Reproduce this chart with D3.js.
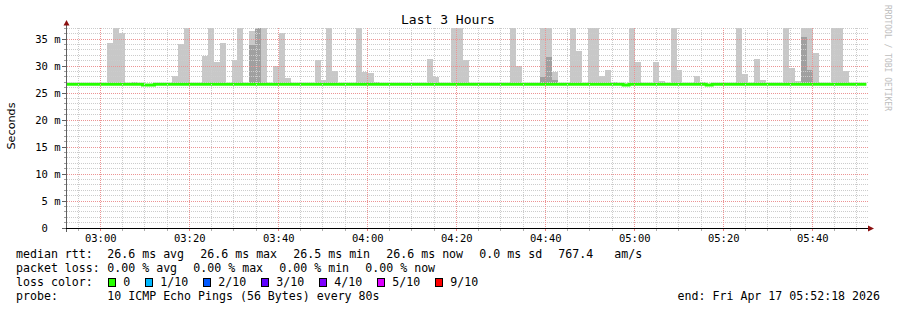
<!DOCTYPE html>
<html>
<head>
<meta charset="utf-8">
<script src="https://cdn.jsdelivr.net/npm/d3@7"></script>
<style>
body { margin: 0; background: #fff; }
svg { display: block; }
text { font-family: "DejaVu Sans Mono", monospace; fill: #000; }
</style>
</head>
<body>
<svg id="canvas" width="897" height="310"></svg>
<script>
let tStart = new Date(2026, 3, 17, 2, 52, 18);
let tEnd = new Date(2026, 3, 17, 5, 52, 18);
let firstSlot = new Date(2026, 3, 17, 2, 52, 10);
let stepSec = 80;

// highest ping per 80 s step (ms), null = no spread above the median
let smokeTop = [
	null, null, null, null, null, null, null, 34.3, 38, 36.1,
	null, 27.0, 26.9, null, null, null, null, null, 28.1, 34.1,
	38, null, null, 31.9, 38, 30.8, 34.3, null, 31.2, 38,
	null, 36.5, 38, 38, null, 30.0, 36.1, 27.8, null, null,
	null, null, 31.1, 27.4, 38, 29.1, null, null, null, 38,
	28.9, 28.7, 27.0, null, 26.9, null, null, null, null, null,
	null, 31.3, 28.0, 26.9, null, 38, 38, 31.1, null, null,
	null, null, null, null, null, 38, 30.0, null, null, null,
	38, 38, 28.9, null, null, 38, 32.8, null, 38, 38,
	28.1, 29.3, 27.0, 26.9, null, 38, 30.7, null, 26.9, 30.7,
	27.2, null, 38, 29.3, null, null, 28.1, 27.0, null, null,
	null, null, null, 38, 28.5, null, 31.3, 27.4, null, 26.9,
	null, 38, 29.6, 27.2, 38, 38, 32.4, null, null, 38,
	38, 29.1, null, null, null, null
];

// steps where the inner (denser) smoke shows
let darkSlots = [31, 32, 80, 81, 82, 124, 125];
let darkTop = [33.8, 38, 28.0, 31.7, 27.4, 35.4, 29.3];

let smokeFloor = 26.5;

// median rtt per step
let medianRtt = [
	26.6, 26.6, 26.6, 26.6, 26.6, 26.6, 26.6, 26.6, 26.6, 26.6,
	26.6, 26.6, 26.6, 26.5, 26.5, 26.6, 26.6, 26.6, 26.6, 26.6,
	26.6, 26.6, 26.6, 26.6, 26.6, 26.6, 26.6, 26.6, 26.6, 26.6,
	26.6, 26.6, 26.6, 26.6, 26.6, 26.6, 26.6, 26.6, 26.6, 26.6,
	26.6, 26.6, 26.6, 26.6, 26.6, 26.6, 26.6, 26.6, 26.6, 26.6,
	26.6, 26.6, 26.6, 26.6, 26.6, 26.6, 26.6, 26.6, 26.6, 26.6,
	26.6, 26.6, 26.6, 26.6, 26.6, 26.6, 26.6, 26.6, 26.6, 26.6,
	26.6, 26.6, 26.6, 26.6, 26.6, 26.6, 26.6, 26.6, 26.6, 26.6,
	26.6, 26.6, 26.6, 26.6, 26.6, 26.6, 26.6, 26.6, 26.6, 26.6,
	26.6, 26.6, 26.6, 26.6, 26.5, 26.6, 26.6, 26.6, 26.6, 26.6,
	26.6, 26.6, 26.6, 26.6, 26.6, 26.6, 26.6, 26.6, 26.5, 26.6,
	26.6, 26.6, 26.6, 26.6, 26.6, 26.6, 26.6, 26.6, 26.6, 26.6,
	26.6, 26.6, 26.6, 26.6, 26.6, 26.6, 26.6, 26.6, 26.6, 26.6,
	26.6, 26.6, 26.6, 26.6, 26.6
];

let rttStats = ['26.6 ms avg', '26.6 ms max', '26.5 ms min', '26.6 ms now', '0.0 ms sd'];
let lossStats = ['0.00 % avg', '0.00 % max', '0.00 % min', '0.00 % now'];
let lossLabels = ['0', '1/10', '2/10', '3/10', '4/10', '5/10', '9/10'];
let lossColors = ['#26ff00', '#00b8ff', '#0059ff', '#5e00ff', '#7e00ff', '#dd00ff', '#ff0000'];

let canvas = d3.select('#canvas');

let plotLeft = 66, plotRight = 867, plotTop = 28, plotBottom = 228;

let x = d3.scaleTime().domain([tStart, tEnd]).range([plotLeft, plotRight]);
let y = d3.scaleLinear().domain([0, 200 / 5.4]).range([plotBottom, plotTop]);

let slotTime = (i) => new Date(firstSlot.getTime() + i * stepSec * 1000);
let px = (v) => Math.floor(v) + 0.5;

canvas.append('defs').append('clipPath').attr('id', 'plot')
	.append('rect').attr('x', plotLeft).attr('y', plotTop)
	.attr('width', plotRight - plotLeft).attr('height', plotBottom - plotTop);

// title
canvas.append('text')
	.attr('x', 448).attr('y', 24)
	.attr('text-anchor', 'middle')
	.style('font-size', '13px')
	.text('Last 3 Hours');

// smoke
let plot = canvas.append('g').attr('clip-path', 'url(#plot)');

plot.selectAll('rect.smoke')
	.data(smokeTop.map((v, i) => ({ i: i, v: v })).filter((d) => d.v !== null))
	.enter()
	.append('rect')
	.attr('class', 'smoke')
	.attr('x', (d) => Math.round(x(slotTime(d.i))))
	.attr('width', (d) => Math.round(x(slotTime(d.i + 1))) - Math.round(x(slotTime(d.i))))
	.attr('y', (d) => Math.round(y(d.v)))
	.attr('height', (d) => Math.round(y(smokeFloor)) - Math.round(y(d.v)))
	.attr('fill', '#c8c8c8');

plot.selectAll('rect.dark')
	.data(darkSlots.map((s, k) => ({ i: s, v: darkTop[k] })))
	.enter()
	.append('rect')
	.attr('class', 'dark')
	.attr('x', (d) => Math.round(x(slotTime(d.i))))
	.attr('width', (d) => Math.round(x(slotTime(d.i + 1))) - Math.round(x(slotTime(d.i))))
	.attr('y', (d) => Math.round(y(d.v)))
	.attr('height', (d) => Math.round(y(smokeFloor)) - Math.round(y(d.v)))
	.attr('fill', '#a0a0a0');

// grid (dotted, 1 px on / 1 px off)
let grid = canvas.append('g').attr('stroke-dasharray', '1,1').attr('stroke-width', 1);
let minorY = y.ticks(40).filter((v) => v % 5 !== 0);
let majorY = y.ticks(8).filter((v) => v > 0);
let minorX = d3.timeMinute.every(5).range(tStart, tEnd).filter((t) => t.getMinutes() % 20 !== 0);
let majorX = d3.timeMinute.every(5).range(tStart, tEnd).filter((t) => t.getMinutes() % 20 === 0);

grid.selectAll('line.hmin').data(minorY).enter().append('line')
	.attr('x1', plotLeft + 1).attr('x2', plotRight + 1)
	.attr('y1', (d) => px(y(d))).attr('y2', (d) => px(y(d)))
	.attr('stroke', '#cccccc');
grid.selectAll('line.vmin').data(minorX).enter().append('line')
	.attr('x1', (d) => px(x(d))).attr('x2', (d) => px(x(d)))
	.attr('y1', plotTop).attr('y2', plotBottom)
	.attr('stroke', '#cccccc');
grid.selectAll('line.hmaj').data(majorY).enter().append('line')
	.attr('x1', plotLeft + 1).attr('x2', plotRight + 1)
	.attr('y1', (d) => px(y(d))).attr('y2', (d) => px(y(d)))
	.attr('stroke', '#ec9494');
grid.selectAll('line.vmaj').data(majorX).enter().append('line')
	.attr('x1', (d) => px(x(d))).attr('x2', (d) => px(x(d)))
	.attr('y1', plotTop).attr('y2', plotBottom)
	.attr('stroke', '#ec9494');

// median line
let medianPts = medianRtt.map((v, i) => [slotTime(i), v]);
medianPts.push([slotTime(medianRtt.length), medianRtt[medianRtt.length - 1]]);
plot.append('path')
	.attr('d', d3.line().x((d) => x(d[0])).y((d) => y(d[1])).curve(d3.curveStepAfter)(medianPts))
	.attr('fill', 'none')
	.attr('stroke', lossColors[0])
	.attr('stroke-width', 3);

// axes
let axes = canvas.append('g').attr('shape-rendering', 'crispEdges');
axes.append('line')
	.attr('x1', plotLeft + 0.5).attr('x2', plotLeft + 0.5)
	.attr('y1', 23).attr('y2', 232)
	.attr('stroke', '#606060');
axes.append('line')
	.attr('x1', 62).attr('x2', 869)
	.attr('y1', plotBottom + 0.5).attr('y2', plotBottom + 0.5)
	.attr('stroke', '#000');
axes.selectAll('line.ytick').data(y.ticks(8)).enter().append('line')
	.attr('x1', 62).attr('x2', plotLeft)
	.attr('y1', (d) => px(y(d))).attr('y2', (d) => px(y(d)))
	.attr('stroke', '#606060');
axes.selectAll('line.yminor').data(minorY).enter().append('line')
	.attr('x1', 64).attr('x2', plotLeft)
	.attr('y1', (d) => px(y(d))).attr('y2', (d) => px(y(d)))
	.attr('stroke', '#a0a0a0');
axes.selectAll('line.xtick').data(minorX).enter().append('line')
	.attr('x1', (d) => px(x(d))).attr('x2', (d) => px(x(d)))
	.attr('y1', plotBottom + 1).attr('y2', plotBottom + 3)
	.attr('stroke', '#b0b0b0');
axes.selectAll('line.xmaj').data(majorX).enter().append('line')
	.attr('x1', (d) => px(x(d))).attr('x2', (d) => px(x(d)))
	.attr('y1', plotBottom + 1).attr('y2', plotBottom + 3)
	.attr('stroke', '#ee8080');

canvas.append('path')
	.attr('d', 'M63.5,25.5 L66.5,20 L69.5,25.5 Z')
	.attr('fill', '#8b1010');
canvas.append('path')
	.attr('d', 'M868,225.5 L874,228.5 L868,231.5 Z')
	.attr('fill', '#8b1010');

canvas.selectAll('text.ylab').data(y.ticks(8)).enter().append('text')
	.attr('x', 60.5)
	.attr('y', (d) => y(d) + 3.8)
	.attr('text-anchor', 'end')
	.style('font-size', '10.5px')
	.style('white-space', 'pre')
	.text((d) => d === 0 ? '0  ' : d + ' m');

canvas.selectAll('text.xlab').data(majorX).enter().append('text')
	.attr('x', (d) => x(d) + 0.5)
	.attr('y', 241.5)
	.attr('text-anchor', 'middle')
	.style('font-size', '10.5px')
	.text(d3.timeFormat('%H:%M'));

canvas.append('text')
	.attr('transform', 'translate(15,126) rotate(-90)')
	.attr('text-anchor', 'middle')
	.style('font-family', '"DejaVu Sans", sans-serif')
	.style('font-size', '11.2px')
	.text('Seconds');

canvas.append('text')
	.attr('transform', 'translate(885,5) rotate(90)')
	.style('font-size', '8px')
	.style('fill', '#bdbdbd')
	.text('RRDTOOL / TOBI OETIKER');

// legend
let legend = canvas.append('g').style('font-size', '11.6px').style('white-space', 'pre');
let row = (yy, label) => legend.append('text').attr('x', 16).attr('y', yy).text(label);

row(258, 'median rtt:');
rttStats.forEach((s, i) => {
	legend.append('text').attr('x', 107.3 + i * 93).attr('y', 258).text(s);
});
legend.append('text').attr('x', 558.3).attr('y', 258).text('767.4');
legend.append('text').attr('x', 614.3).attr('y', 258).text('am/s');

row(272, 'packet loss:');
lossStats.forEach((s, i) => {
	legend.append('text').attr('x', 107.3 + i * 86).attr('y', 272).text(s);
});

row(286, 'loss color:');
let bx = 108.3;
lossLabels.forEach((lab, i) => {
	legend.append('rect')
		.attr('x', Math.round(bx) + 0.5).attr('y', 278.5)
		.attr('width', 7).attr('height', 8)
		.attr('fill', lossColors[i])
		.attr('stroke', '#000')
		.attr('shape-rendering', 'crispEdges');
	legend.append('text').attr('x', bx + 15).attr('y', 286).text(lab);
	bx = bx + 15 + lab.length * 7 + 15;
});

row(300, 'probe:');
legend.append('text').attr('x', 107.3).attr('y', 300).text('10 ICMP Echo Pings (56 Bytes) every 80s');
legend.append('text').attr('x', 880).attr('y', 300).attr('text-anchor', 'end').text('end: Fri Apr 17 05:52:18 2026');
</script>
</body>
</html>
